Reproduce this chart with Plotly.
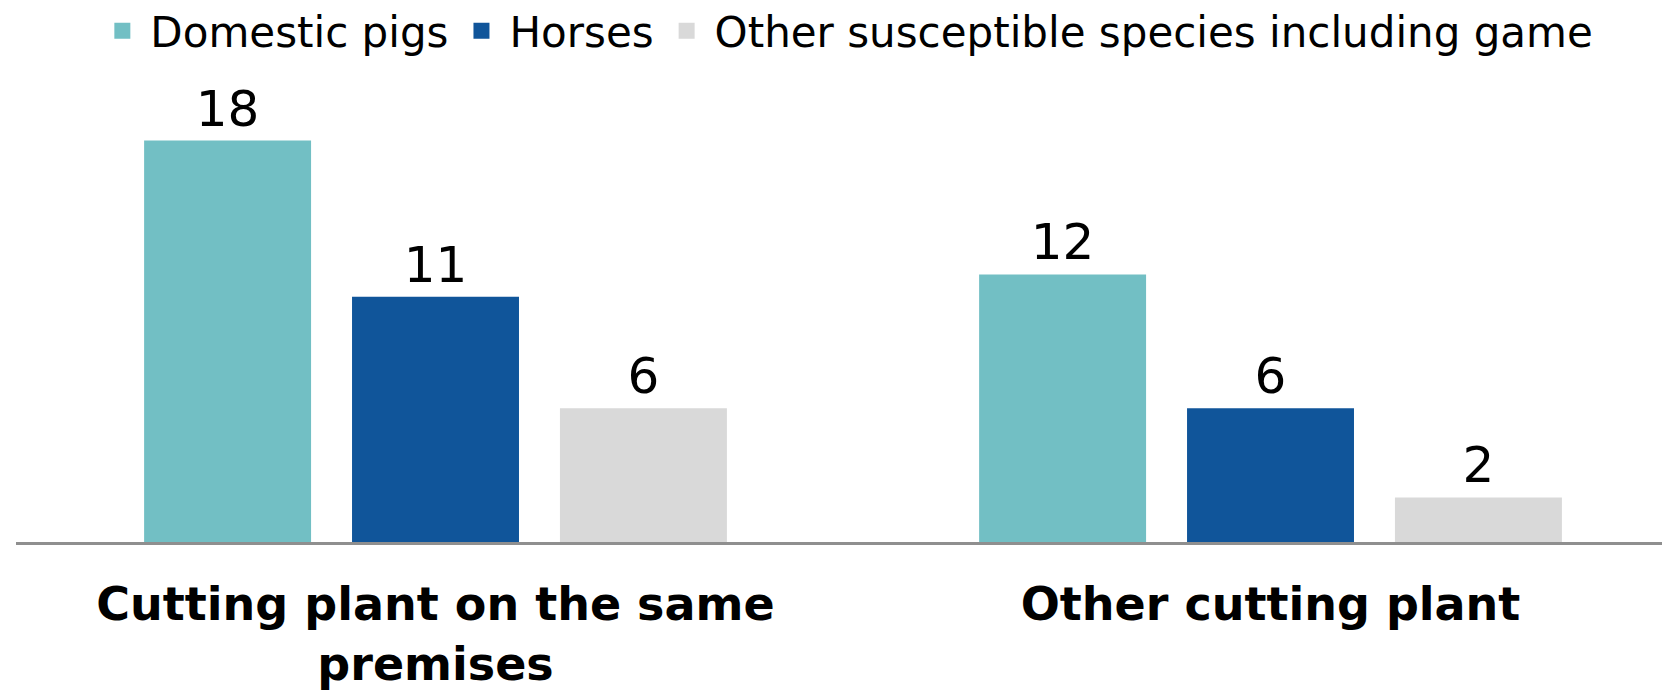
import plotly.graph_objects as go

categories = ["Cutting plant on the same<br>premises", "Other cutting plant"]
series_names = ["Domestic pigs", "Horses", "Other susceptible species including game"]
domestic_pigs = [18, 12]
horses = [11, 6]
other_species = [6, 2]

colors = ["#72BFC4", "#10559A", "#D9D9D9"]
values = [domestic_pigs, horses, other_species]

FONT = "DejaVu Sans"

fig = go.Figure()
for name, vals, col in zip(series_names, values, colors):
    fig.add_trace(go.Bar(
        name=name,
        legendgroup=name,
        showlegend=False,
        x=categories,
        y=vals,
        marker=dict(color=col, line=dict(width=0)),
        text=[str(v) for v in vals],
        textposition="outside",
        textfont=dict(family=FONT, size=50, color="#000000"),
        cliponaxis=False,
        hoverinfo="skip",
    ))
    # legend entry with a larger square swatch
    fig.add_trace(go.Scatter(
        name=name,
        legendgroup=name,
        showlegend=True,
        x=[None],
        y=[None],
        mode="markers",
        marker=dict(symbol="square", size=26, color=col, line=dict(width=0)),
        hoverinfo="skip",
    ))

fig.update_layout(
    width=1670,
    height=690,
    margin=dict(l=8, r=0, t=88, b=156, autoexpand=False),
    paper_bgcolor="white",
    plot_bgcolor="white",
    barmode="group",
    bargap=0.253,
    bargroupgap=0.197,
    showlegend=True,
    legend=dict(
        orientation="h",
        x=0.502,
        xanchor="center",
        xref="container",
        y=1.222,
        yanchor="top",
        yref="paper",
        font=dict(family=FONT, size=42, color="#000000"),
        itemwidth=46,
        itemsizing="trace",
        tracegroupgap=0,
        bgcolor="rgba(0,0,0,0)",
    ),
    font=dict(family=FONT, color="#000000"),
    xaxis=dict(
        type="category",
        categoryorder="array",
        categoryarray=categories,
        range=[-0.5024, 1.488],
        showline=True,
        linecolor="#8F8F8F",
        linewidth=3,
        showgrid=False,
        zeroline=False,
        ticks="",
        tickfont=dict(family=FONT, size=46, color="#000000", weight="bold"),
        ticklabelstandoff=20,
        fixedrange=True,
    ),
    yaxis=dict(
        range=[0, 20],
        visible=False,
        showgrid=False,
        zeroline=False,
        fixedrange=True,
    ),
)

fig.write_html("out.html")
